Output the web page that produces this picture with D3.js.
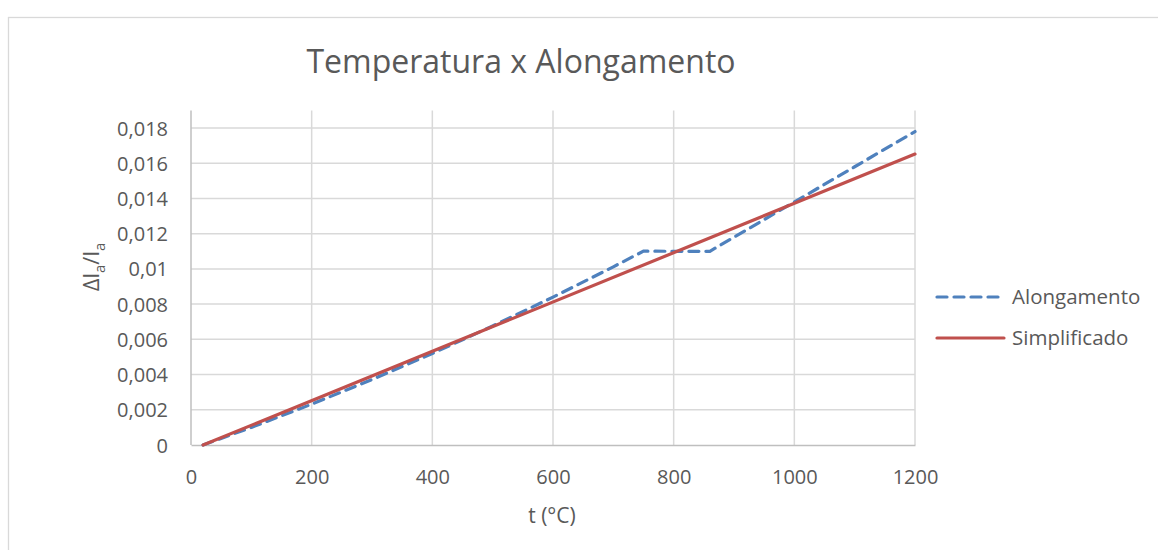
<!DOCTYPE html>
<html>
<head>
<meta charset="utf-8">
<script src="https://cdn.jsdelivr.net/npm/d3@7"></script>
<style>
  html, body { margin: 0; padding: 0; background: #fff; }
  svg { display: block; font-family: "Open Sans", sans-serif; }
</style>
</head>
<body>
<svg id="chart" width="1158" height="550"></svg>
<script>
// Thermal elongation of steel vs temperature
const temps       = [20, 100, 200, 300, 400, 500, 600, 700, 750, 800, 860, 900, 1000, 1100, 1200];
const alongamento = [0, 0.000998, 0.002318, 0.003718, 0.005198, 0.006758, 0.008398, 0.010118, 0.011008, 0.011, 0.011, 0.0118, 0.0138, 0.0158, 0.0178];
const simpTemps   = [20, 1200];
const simplificado = [0, 0.01652];

const xTicks = [0, 200, 400, 600, 800, 1000, 1200];
const yTicks = [0, 0.002, 0.004, 0.006, 0.008, 0.01, 0.012, 0.014, 0.016, 0.018];
const yTickLabels = ["0", "0,002", "0,004", "0,006", "0,008", "0,01", "0,012", "0,014", "0,016", "0,018"];

const seriesNames = ["Alongamento", "Simplificado"];
const seriesColors = ["#4F81BD", "#C0504D"];

const svg = d3.select("#chart");
const textColor = "#595959";

// chart frame
svg.append("rect")
  .attr("x", 8.5).attr("y", 17.5)
  .attr("width", 1200).attr("height", 600)
  .attr("fill", "none").attr("stroke", "#d9d9d9").attr("stroke-width", 1.3);

const x = d3.scaleLinear().domain([0, 1200]).range([191, 915]);
const y = d3.scaleLinear().domain([0, 0.018]).range([445, 128]);
const yTop = y(0.019);

// gridlines
const grid = svg.append("g");
grid.selectAll("line.h").data(yTicks.filter(d => d > 0)).join("line")
  .attr("x1", x(0)).attr("x2", x(1200))
  .attr("y1", d => y(d)).attr("y2", d => y(d))
  .attr("stroke", "#d9d9d9").attr("stroke-width", 1.5);
grid.selectAll("line.v").data(xTicks.filter(d => d > 0)).join("line")
  .attr("x1", d => x(d)).attr("x2", d => x(d))
  .attr("y1", yTop).attr("y2", y(0))
  .attr("stroke", "#d9d9d9").attr("stroke-width", 1.5);

// axes
const xAxis = d3.axisBottom(x).tickValues(xTicks).tickSize(0).tickPadding(0).tickFormat(d3.format("d"));
const gx = svg.append("g").attr("transform", `translate(0,${y(0)})`).call(xAxis);
gx.select(".domain").attr("stroke", "#bfbfbf").attr("stroke-width", 1.5);
gx.selectAll("text").attr("fill", textColor).attr("font-size", 20)
  .attr("font-family", "'Open Sans', sans-serif").attr("dy", null).attr("y", 39);

const yAxis = d3.axisLeft(y).tickValues(yTicks).tickSize(0).tickPadding(0)
  .tickFormat((d, i) => yTickLabels[i]);
const gy = svg.append("g").attr("transform", `translate(${x(0)},0)`).call(yAxis);
gy.select(".domain").attr("d", `M0,${yTop}V${y(0)}`).attr("stroke", "#bfbfbf").attr("stroke-width", 1.5);
gy.selectAll("text").attr("fill", textColor).attr("font-size", 20)
  .attr("font-family", "'Open Sans', sans-serif").attr("x", -23).attr("dy", "0.35em");

// series lines
const line = d3.line().x(d => x(d[0])).y(d => y(d[1]));
svg.append("path")
  .datum(temps.map((t, i) => [t, alongamento[i]]))
  .attr("d", line).attr("fill", "none")
  .attr("stroke", seriesColors[0]).attr("stroke-width", 3.2)
  .attr("stroke-dasharray", "10,7").attr("stroke-linecap", "round");
svg.append("path")
  .datum(simpTemps.map((t, i) => [t, simplificado[i]]))
  .attr("d", line).attr("fill", "none")
  .attr("stroke", seriesColors[1]).attr("stroke-width", 3.2).attr("stroke-linecap", "round");

// title
svg.append("text")
  .attr("x", 521).attr("y", 73)
  .attr("text-anchor", "middle")
  .attr("fill", textColor).attr("font-size", 32)
  .text("Temperatura x Alongamento");

// axis titles
svg.append("text")
  .attr("x", 552).attr("y", 523)
  .attr("text-anchor", "middle")
  .attr("fill", textColor).attr("font-size", 21)
  .text("t (°C)");

const yl = svg.append("text")
  .attr("transform", "translate(99,267) rotate(-90)")
  .attr("text-anchor", "middle")
  .attr("fill", textColor).attr("font-size", 22);
yl.append("tspan").text("Δl");
yl.append("tspan").attr("font-size", 15).attr("dy", 6).text("a");
yl.append("tspan").attr("dy", -6).text("/l");
yl.append("tspan").attr("font-size", 15).attr("dy", 6).text("a");

// legend
const legendY = [297, 338];
const lg = svg.append("g");
seriesNames.forEach((name, i) => {
  lg.append("line")
    .attr("x1", 937).attr("x2", 1004)
    .attr("y1", legendY[i]).attr("y2", legendY[i])
    .attr("stroke", seriesColors[i]).attr("stroke-width", 3.2)
    .attr("stroke-linecap", "round")
    .attr("stroke-dasharray", i === 0 ? "10,7" : null);
  lg.append("text")
    .attr("x", 1012).attr("y", legendY[i]).attr("dy", "0.35em")
    .attr("fill", textColor).attr("font-size", 20.5)
    .text(name);
});
</script>
</body>
</html>
